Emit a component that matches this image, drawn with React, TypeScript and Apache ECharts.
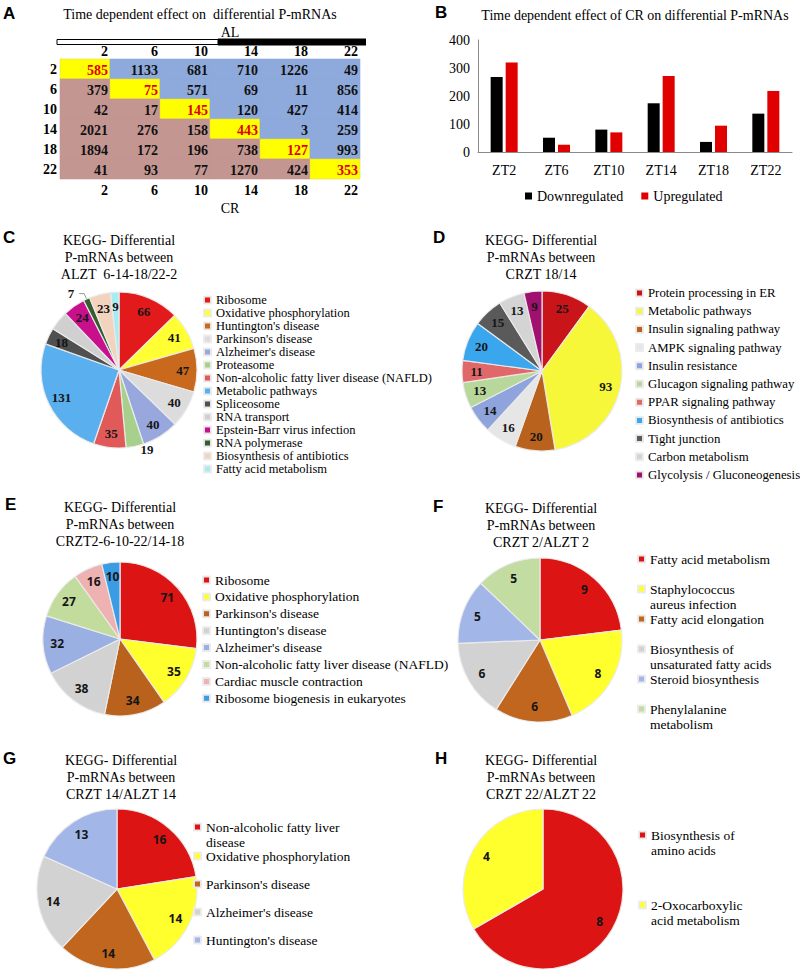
import React, { useEffect, useRef } from 'react';
import * as echarts from 'echarts';

// ---------- Panel A data ----------
const heatCols = ['2', '6', '10', '14', '18', '22'];
const heatRows = ['2', '6', '10', '14', '18', '22'];
const heatValues = [
  [585, 1133, 681, 710, 1226, 49],
  [379, 75, 571, 69, 11, 856],
  [42, 17, 145, 120, 427, 414],
  [2021, 276, 158, 443, 3, 259],
  [1894, 172, 196, 738, 127, 993],
  [41, 93, 77, 1270, 424, 353],
];

// ---------- Panel B data ----------
const ztCategories = ['ZT2', 'ZT6', 'ZT10', 'ZT14', 'ZT18', 'ZT22'];
const downValues = [268, 51, 80, 174, 36, 137];
const upValues = [320, 26, 70, 271, 94, 218];
const bTicks = [0, 100, 200, 300, 400];

// ---------- Panel C ----------
const cNames = ['Ribosome', 'Oxidative phosphorylation', "Huntington's disease", "Parkinson's disease", "Alzheimer's disease", 'Proteasome', 'Non-alcoholic fatty liver disease (NAFLD)', 'Metabolic pathways', 'Spliceosome', 'RNA transport', 'Epstein-Barr virus infection', 'RNA polymerase', 'Biosynthesis of antibiotics', 'Fatty acid metabolism'];
const cValues = [66, 41, 47, 40, 40, 19, 35, 131, 18, 21, 24, 7, 23, 9];
const cColors = ['#E31A1C', '#FFFF33', '#C8691E', '#DCDCDC', '#98A8DE', '#A8D08D', '#E05A5A', '#5AB0EE', '#505050', '#D0D0D0', '#C8108C', '#355E30', '#F2D3BE', '#A6ECF2'];

// ---------- Panel D ----------
const dNames = ['Protein processing in ER', 'Metabolic pathways', 'Insulin signaling pathway', 'AMPK signaling pathway', 'Insulin resistance', 'Glucagon signaling pathway', 'PPAR signaling pathway', 'Biosynthesis of antibiotics', 'Tight junction', 'Carbon metabolism', 'Glycolysis / Gluconeogenesis'];
const dValues = [25, 93, 20, 16, 14, 13, 11, 20, 15, 13, 9];
const dColors = ['#C9141A', '#F7F73A', '#B8621E', '#E6E6E6', '#8FA3DC', '#B8D79B', '#E06868', '#3AA6EE', '#5A5A5A', '#D4D4D4', '#A0106E'];

// ---------- Panel E ----------
const eNames = ['Ribosome', 'Oxidative phosphorylation', "Parkinson's disease", "Huntington's disease", "Alzheimer's disease", 'Non-alcoholic fatty liver disease (NAFLD)', 'Cardiac muscle contraction', 'Ribosome biogenesis in eukaryotes'];
const eValues = [71, 35, 34, 38, 32, 27, 16, 10];
const eColors = ['#DC1414', '#FFFF2E', '#B8621E', '#D2D2D2', '#9AAFE2', '#C2DC9E', '#EEB2B2', '#3A9CE4'];

// ---------- Panel F ----------
const fNames = ['Fatty acid metabolism', 'Staphylococcus aureus infection', 'Fatty acid elongation', 'Biosynthesis of unsaturated fatty acids', 'Steroid biosynthesis', 'Phenylalanine metabolism'];
const fValues = [9, 8, 6, 6, 5, 5];
const fColors = ['#DC1414', '#FFFF2E', '#C0661E', '#D2D2D2', '#A2B6E8', '#C2DCA2'];

// ---------- Panel G ----------
const gNames = ['Non-alcoholic fatty liver disease', 'Oxidative phosphorylation', "Parkinson's disease", "Alzheimer's disease", "Huntington's disease"];
const gValues = [16, 14, 14, 14, 13];
const gColors = ['#DC1414', '#FFFF2E', '#C0661E', '#D2D2D2', '#A2B6E8'];

// ---------- Panel H ----------
const hNames = ['Biosynthesis of amino acids', '2-Oxocarboxylic acid metabolism'];
const hValues = [8, 4];
const hColors = ['#DC1414', '#FFFF2E'];

const wrapMap: Record<string, string[]> = {
  'Staphylococcus aureus infection': ['Staphylococcus', 'aureus infection'],
  'Biosynthesis of unsaturated fatty acids': ['Biosynthesis of', 'unsaturated fatty acids'],
  'Phenylalanine metabolism': ['Phenylalanine', 'metabolism'],
  'Non-alcoholic fatty liver disease': ['Non-alcoholic fatty liver', 'disease'],
  'Biosynthesis of amino acids': ['Biosynthesis of', 'amino acids'],
  '2-Oxocarboxylic acid metabolism': ['2-Oxocarboxylic', 'acid metabolism'],
};

const SERIF = 'Liberation Serif';
const SANS = 'Liberation Sans';
const LSANS = 'Open Sans';

function letter(text: string, left: number, top: number) {
  return { text, left, top, padding: 0, textStyle: { fontFamily: SANS, fontWeight: 'bold', fontSize: 17, color: '#000' } };
}
function heading(text: string, left: number, top: number, size = 14) {
  return { text, left, top, padding: 0, textAlign: 'center', textStyle: { fontFamily: SERIF, fontWeight: 'normal', fontSize: size, lineHeight: 17, color: '#000' } };
}

function pie(names: string[], values: number[], colors: string[], cx: number, cy: number, r: number, font: any, overrides: Record<number, any> = {}) {
  const base = {
    type: 'pie', center: [cx, cy], radius: r, startAngle: 90, silent: true,
    emphasis: { disabled: true },
    label: { show: false }, labelLine: { show: false },
    itemStyle: { borderColor: 'rgba(235,235,235,0.95)', borderWidth: 1.2 },
    data: names.map((n, i) => ({ name: n, value: values[i], itemStyle: { color: colors[i] } })),
  };
  const overlay = {
    type: 'pie', center: [cx, cy], radius: [r * 0.56, r], startAngle: 90, silent: true,
    avoidLabelOverlap: false, emphasis: { disabled: true },
    itemStyle: { color: 'rgba(0,0,0,0)', borderWidth: 0 },
    label: { show: true, position: 'inside', formatter: '{c}', color: '#151515', fontWeight: 'bold', ...font },
    labelLine: { show: false },
    data: names.map((n, i) => ({ name: n, value: values[i], ...(overrides[i] || {}) })),
  };
  return [base, overlay];
}

function legend(names: string[], colors: string[], left: number, top: number, lineHeight: number, itemGap: number, fontSize = 13) {
  const rich = {
    t: { fontFamily: SERIF, fontSize, lineHeight, color: '#000' },
  };
  return {
    orient: 'vertical', left, top, padding: 0, itemGap, selectedMode: false,
    icon: 'rect', itemWidth: 7, itemHeight: 7,
    textStyle: { fontFamily: SERIF, fontSize, lineHeight, color: '#000', rich },
    formatter: (name: string) => (wrapMap[name] ? wrapMap[name] : [name]).map((s) => `{t|${s}}`).join('\n'),
    data: names.map((n, i) => ({
      name: n, itemStyle: { color: colors[i] },
      ...(wrapMap[n] ? { textStyle: { fontFamily: SERIF, fontSize, lineHeight, color: '#000', rich, padding: [lineHeight, 0, 0, 0] } } : {}),
    })),
  };
}

export default function App() {
  const ref = useRef<HTMLDivElement>(null);
  useEffect(() => {
    if (!ref.current) return;
    const chart = echarts.init(ref.current, null, { renderer: 'svg' });

    const heatData: any[] = [];
    heatValues.forEach((row, i) => row.forEach((v, j) => heatData.push([j, i, v])));

    const heatAxisLabel = {
      formatter: (v: number) => (v >= 1 && v <= heatCols.length ? heatCols[v - 1] : ''),
      align: 'right', padding: [0, 2, 0, 0],
      fontFamily: SERIF, fontWeight: 'bold', fontSize: 14, color: '#000',
    };

    const option: any = {
      animation: false,
      textStyle: { fontFamily: SERIF },
      title: [
        letter('A', 3, 5), letter('B', 435, 4), letter('C', 3, 229), letter('D', 433, 229),
        letter('E', 5, 496), letter('F', 433, 498), letter('G', 3, 750), letter('H', 435, 750),
        heading('Time dependent effect on  differential P-mRNAs', 200, 6),
        heading('Time dependent effect of CR on differential P-mRNAs', 635, 7),
        heading('KEGG- Differential\nP-mRNAs between\nALZT  6-14-18/22-2', 119, 231.5),
        heading('KEGG- Differential\nP-mRNAs between\nCRZT 18/14', 541, 231.5),
        heading('KEGG- Differential\nP-mRNAs between\nCRZT2-6-10-22/14-18', 120, 498.5),
        heading('KEGG- Differential\nP-mRNAs between\nCRZT 2/ALZT 2', 541, 499.5),
        heading('KEGG- Differential\nP-mRNAs between\nCRZT 14/ALZT 14', 121, 751.5),
        heading('KEGG- Differential\nP-mRNAs between\nCRZT 22/ALZT 22', 541, 751.5),
      ],
      grid: [
        { left: 60, top: 59, width: 300, height: 120 },
        { left: 478, top: 40, width: 314, height: 112 },
      ],
      xAxis: [
        {
          type: 'value', gridIndex: 0, position: 'top', min: 0, max: 6, interval: 1,
          axisLine: { show: false }, axisTick: { show: false }, splitLine: { show: false },
          axisLabel: { ...heatAxisLabel, margin: 1 },
          name: 'AL', nameLocation: 'middle', nameGap: 20, nameMoveOverlap: false,
          nameTextStyle: { fontFamily: SERIF, fontSize: 14, color: '#000', padding: [0, 0, 0, 40] },
        },
        {
          type: 'value', gridIndex: 0, position: 'bottom', min: 0, max: 6, interval: 1,
          axisLine: { show: false }, axisTick: { show: false }, splitLine: { show: false },
          axisLabel: { ...heatAxisLabel, margin: 4 },
          name: 'CR', nameLocation: 'middle', nameGap: 22, nameMoveOverlap: false,
          nameTextStyle: { fontFamily: SERIF, fontSize: 14, color: '#000', padding: [0, 0, 0, 40] },
        },
        {
          type: 'category', gridIndex: 1, data: ztCategories,
          axisLine: { lineStyle: { color: '#8a8a8a' } }, axisTick: { show: false },
          axisLabel: { fontFamily: SERIF, fontSize: 14, color: '#000', margin: 11 },
        },
      ],
      yAxis: [
        {
          type: 'category', gridIndex: 0, data: heatRows, inverse: true,
          axisLine: { show: false }, axisTick: { show: false }, splitLine: { show: false },
          axisLabel: { fontFamily: SERIF, fontWeight: 'bold', fontSize: 14, color: '#000', margin: 3 },
        },
        {
          type: 'value', gridIndex: 1, min: bTicks[0], max: bTicks[bTicks.length - 1], interval: 100,
          axisLine: { show: true, lineStyle: { color: '#8a8a8a' } }, axisTick: { show: false },
          splitLine: { show: false },
          axisLabel: { fontFamily: SERIF, fontSize: 14, color: '#000', margin: 8 },
        },
      ],
      legend: [
        {
          left: 525, top: 189, padding: 0, itemGap: 18, selectedMode: false,
          icon: 'rect', itemWidth: 7, itemHeight: 7,
          textStyle: { fontFamily: SERIF, fontSize: 14, color: '#000', rich: { t: { fontFamily: SERIF, fontSize: 14, color: '#000' } } },
          formatter: (name: string) => `{t|${name}}`,
          data: ['Downregulated', 'Upregulated'],
        },
        legend(cNames, cColors, 203, 293.5, 13, 0, 12.5),
        legend(dNames, dColors, 635, 285.5, 15, 3.2, 12.8),
        legend(eNames, eColors, 202, 572.5, 15, 1.9, 13.5),
        legend(fNames, fColors, 637, 551.5, 15, 0, 13.5),
        legend(gNames.slice(0, 1), gColors.slice(0, 1), 193, 804.5, 15, 0, 13.5),
        legend(gNames.slice(1), gColors.slice(1), 193, 848.5, 15, 13, 13.5),
        legend(hNames, hColors, 638, 812.5, 15, 25, 13.5),
      ],
      graphic: [
        { type: 'rect', shape: { x: 57, y: 39.5, width: 161, height: 5 }, style: { fill: '#fff', stroke: '#000', lineWidth: 1 } },
        { type: 'rect', shape: { x: 218, y: 38.5, width: 148, height: 7 }, style: { fill: '#000' } },
      ],
      series: [
        {
          type: 'custom', xAxisIndex: 0, yAxisIndex: 0, silent: true,
          data: heatData,
          renderItem: (params: any, api: any) => {
            const col = api.value(0);
            const row = api.value(1);
            const v = api.value(2);
            const p0 = api.coord([col, row]);
            const p1 = api.coord([col + 1, row]);
            const h = api.size([1, 1])[1];
            const w = p1[0] - p0[0];
            const diag = col === row;
            const fill = diag ? '#FFFF00' : col > row ? '#8EA9DB' : '#C49692';
            return {
              type: 'group',
              children: [
                { type: 'rect', shape: { x: p0[0], y: p0[1] - h / 2, width: w, height: h }, style: { fill, stroke: diag ? '#E8D84A' : fill, lineWidth: 0.6 } },
                {
                  type: 'text',
                  style: {
                    x: p0[0] + w - 2, y: p0[1] + 1, text: String(v), align: 'right', verticalAlign: 'middle',
                    fontFamily: SERIF, fontWeight: 'bold', fontSize: 14, fill: diag ? '#E00000' : '#111',
                  },
                },
              ],
            };
          },
        },
        { type: 'bar', name: 'Downregulated', xAxisIndex: 2, yAxisIndex: 1, data: downValues, barWidth: 12, barGap: '25%', itemStyle: { color: '#000' } },
        { type: 'bar', name: 'Upregulated', xAxisIndex: 2, yAxisIndex: 1, data: upValues, barWidth: 12, itemStyle: { color: '#E00000' } },
        ...pie(cNames, cValues, cColors, 119, 370, 78, { fontFamily: SERIF, fontSize: 13 }, {
          5: { label: { position: 'outside' }, labelLine: { show: false, length: 3, length2: 0 } },
          11: { label: { position: 'outside' }, labelLine: { show: true, length: 6, length2: 5, lineStyle: { color: '#999' } } },
        }),
        ...pie(dNames, dValues, dColors, 542, 371, 80, { fontFamily: SERIF, fontSize: 13 }),
        ...pie(eNames, eValues, eColors, 120, 639, 77, { fontFamily: LSANS, fontSize: 12 }),
        ...pie(fNames, fValues, fColors, 540, 640, 82, { fontFamily: LSANS, fontSize: 12 }),
        ...pie(gNames, gValues, gColors, 117, 889, 80, { fontFamily: LSANS, fontSize: 12 }),
        ...pie(hNames, hValues, hColors, 543, 889, 80, { fontFamily: LSANS, fontSize: 12 }),
      ],
    };
    chart.setOption(option);
    return () => chart.dispose();
  }, []);
  return <div ref={ref} style={{ position: 'absolute', left: 0, top: 0, width: 800, height: 976, background: '#fff' }} />;
}
